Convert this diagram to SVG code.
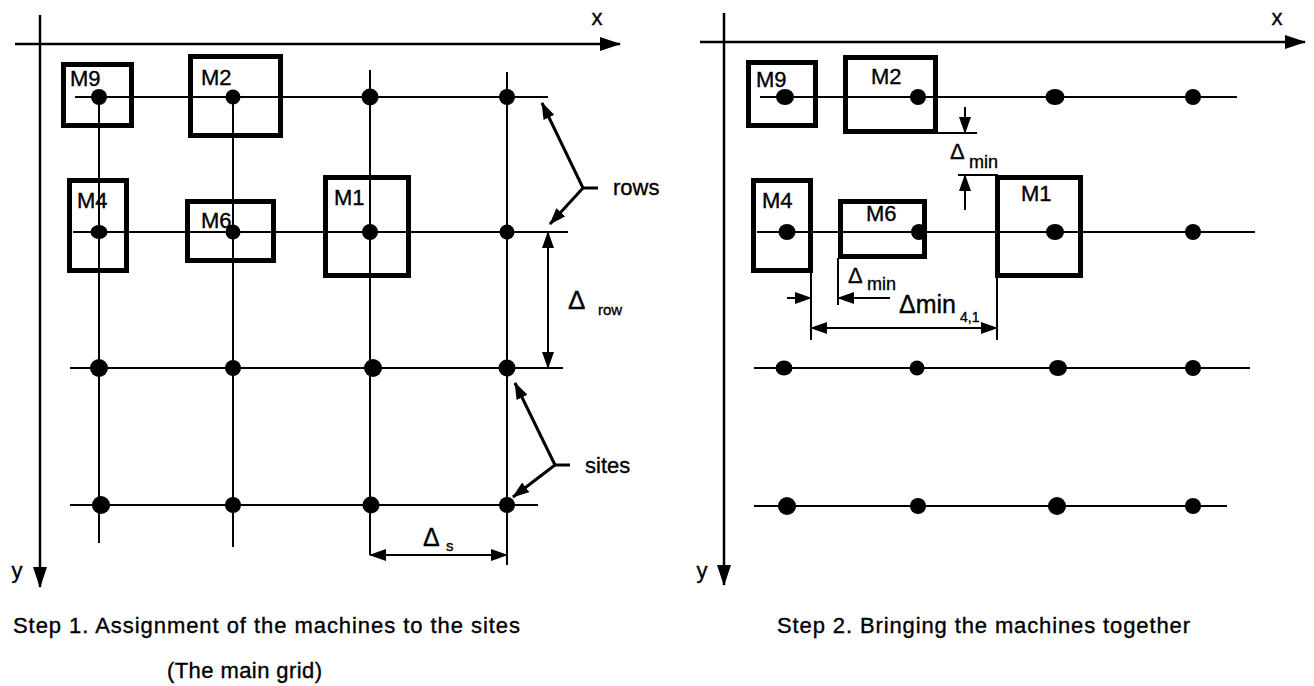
<svg xmlns="http://www.w3.org/2000/svg" width="1314" height="686" viewBox="0 0 1314 686">
<defs>
<marker id="ah" markerUnits="userSpaceOnUse" markerWidth="17" markerHeight="12" refX="16" refY="6" orient="auto-start-reverse"><path d="M0,0 L17,6 L0,12 z" fill="#000"/></marker>
<marker id="axh" markerUnits="userSpaceOnUse" markerWidth="21" markerHeight="14" refX="20" refY="7" orient="auto"><path d="M0,0 L21,7 L0,14 z" fill="#000"/></marker>
</defs>
<style>
.ax{stroke:#000;stroke-width:2.5;fill:none}
.g{stroke:#000;stroke-width:2;fill:none}
.m{stroke:#000;stroke-width:5;fill:none}
.d{fill:#000}
.ptr{stroke:#000;stroke-width:3;fill:none}
.dim{stroke:#000;stroke-width:2;fill:none}
text{font-family:"Liberation Sans",Arial,sans-serif;fill:#000;stroke:#000;stroke-width:0.35}
.ml{font-size:22px}
.lb{font-size:22px}
.cap{font-size:22px}
</style>

<!-- connectors / lines -->
<g id="connectors">
  <!-- left axes -->
  <line class="ax" x1="15" y1="44" x2="620" y2="44" marker-end="url(#axh)"/>
  <line class="ax" x1="40" y1="15" x2="40" y2="587" marker-end="url(#axh)"/>
  <!-- left grid verticals -->
  <line class="g" x1="99" y1="90" x2="99" y2="543"/>
  <line class="g" x1="233" y1="90" x2="233" y2="547"/>
  <line class="g" x1="370" y1="70" x2="370" y2="555"/>
  <line class="g" x1="507" y1="72" x2="507" y2="565"/>
  <!-- left grid rows -->
  <line class="g" x1="75" y1="97" x2="548" y2="97"/>
  <line class="g" x1="73" y1="232" x2="568" y2="232"/>
  <line class="g" x1="70" y1="368" x2="563" y2="368"/>
  <line class="g" x1="70" y1="505" x2="538" y2="505"/>
  <!-- rows pointer -->
  <line class="ptr" x1="598" y1="188" x2="583" y2="188"/>
  <line class="ptr" x1="583" y1="188" x2="542" y2="103" marker-end="url(#ah)"/>
  <line class="ptr" x1="583" y1="188" x2="550" y2="224" marker-end="url(#ah)"/>
  <!-- sites pointer -->
  <line class="ptr" x1="570" y1="465" x2="555" y2="465"/>
  <line class="ptr" x1="555" y1="465" x2="515" y2="383" marker-end="url(#ah)"/>
  <line class="ptr" x1="555" y1="465" x2="513" y2="497" marker-end="url(#ah)"/>
  <!-- delta row -->
  <line class="dim" x1="548" y1="232" x2="548" y2="368" marker-start="url(#ah)" marker-end="url(#ah)"/>
  <!-- delta s -->
  <line class="dim" x1="370" y1="555" x2="507" y2="555" marker-start="url(#ah)" marker-end="url(#ah)"/>

  <!-- right axes -->
  <line class="ax" x1="700" y1="42" x2="1305" y2="42" marker-end="url(#axh)"/>
  <line class="ax" x1="724" y1="13" x2="724" y2="585" marker-end="url(#axh)"/>
  <!-- right rows -->
  <line class="g" x1="760" y1="97" x2="1237" y2="97"/>
  <line class="g" x1="757" y1="232" x2="1255" y2="232"/>
  <line class="g" x1="754" y1="368" x2="1250" y2="368"/>
  <line class="g" x1="754" y1="506" x2="1227" y2="506"/>
  <!-- vertical delta min -->
  <line class="dim" x1="938" y1="133" x2="977" y2="133"/>
  <line class="dim" x1="965" y1="107" x2="965" y2="133" marker-end="url(#ah)"/>
  <line class="dim" x1="958" y1="175" x2="998" y2="175"/>
  <line class="dim" x1="965" y1="210" x2="965" y2="175" marker-end="url(#ah)"/>
  <!-- horizontal delta min -->
  <line class="dim" x1="811" y1="271" x2="811" y2="340"/>
  <line class="dim" x1="838" y1="258" x2="838" y2="305"/>
  <line class="dim" x1="787" y1="298" x2="811" y2="298" marker-end="url(#ah)"/>
  <line class="dim" x1="890" y1="298" x2="838" y2="298" marker-end="url(#ah)"/>
  <!-- delta min 4,1 -->
  <line class="dim" x1="997" y1="278" x2="997" y2="340"/>
  <line class="dim" x1="811" y1="328" x2="997" y2="328" marker-start="url(#ah)" marker-end="url(#ah)"/>
</g>

<!-- sites (dots) -->
<g id="left-sites">
  <circle class="d" cx="99" cy="97" r="8"/><circle class="d" cx="233" cy="97" r="7.5"/><circle class="d" cx="370" cy="97" r="8.5"/><circle class="d" cx="507" cy="97" r="8"/>
  <ellipse class="d" cx="99" cy="232" rx="8.5" ry="7"/><circle class="d" cx="233" cy="232" r="7.5"/><circle class="d" cx="370" cy="232" r="8"/><circle class="d" cx="507" cy="232" r="7.5"/>
  <circle class="d" cx="99" cy="368" r="9"/><circle class="d" cx="233" cy="368" r="8"/><circle class="d" cx="373" cy="368" r="9"/><circle class="d" cx="507" cy="368" r="8.5"/>
  <circle class="d" cx="101" cy="505" r="9"/><circle class="d" cx="233" cy="505" r="8"/><circle class="d" cx="371" cy="505" r="8.5"/><circle class="d" cx="507" cy="505" r="8"/>
</g>
<g id="right-sites">
  <ellipse class="d" cx="785" cy="97" rx="9" ry="8"/><circle class="d" cx="918" cy="97" r="8"/><ellipse class="d" cx="1055" cy="97" rx="9.5" ry="8"/><circle class="d" cx="1193" cy="97" r="8"/>
  <ellipse class="d" cx="787" cy="232" rx="8.5" ry="8"/><circle class="d" cx="919" cy="232" r="8"/><ellipse class="d" cx="1055" cy="232" rx="9" ry="8"/><circle class="d" cx="1193" cy="232" r="8"/>
  <ellipse class="d" cx="784" cy="368" rx="8.5" ry="7.5"/><circle class="d" cx="917" cy="368" r="7.5"/><ellipse class="d" cx="1058" cy="368" rx="9" ry="8"/><circle class="d" cx="1193" cy="368" r="8"/>
  <circle class="d" cx="787" cy="506" r="9"/><circle class="d" cx="918" cy="506" r="8"/><circle class="d" cx="1057" cy="506" r="9"/><circle class="d" cx="1193" cy="506" r="8"/>
</g>

<!-- left machines -->
<g id="left-M9"><rect class="m" x="63.5" y="64.5" width="68" height="61"/><text class="ml" x="70" y="86">M9</text></g>
<g id="left-M2"><rect class="m" x="190.5" y="56.5" width="90" height="79"/><text class="ml" x="201" y="85">M2</text></g>
<g id="left-M4"><rect class="m" x="69.5" y="180.5" width="57" height="90"/><text class="ml" x="77" y="208">M4</text></g>
<g id="left-M6"><rect class="m" x="187.5" y="201.5" width="86" height="59"/><text class="ml" x="201" y="228">M6</text></g>
<g id="left-M1"><rect class="m" x="325.5" y="177.5" width="83" height="98"/><text class="ml" x="334" y="205">M1</text></g>

<!-- right machines -->
<g id="right-M9"><rect class="m" x="748.5" y="62.5" width="67" height="63"/><text class="ml" x="756" y="87">M9</text></g>
<g id="right-M2"><rect class="m" x="845.5" y="57.5" width="90" height="74"/><text class="ml" x="871" y="84">M2</text></g>
<g id="right-M4"><rect class="m" x="753.5" y="180.5" width="57" height="90"/><text class="ml" x="762" y="208">M4</text></g>
<g id="right-M6"><rect class="m" x="840.5" y="201.5" width="84" height="55"/><text class="ml" x="866" y="221">M6</text></g>
<g id="right-M1"><rect class="m" x="997.5" y="177.5" width="83" height="98"/><text class="ml" x="1021" y="201">M1</text></g>

<!-- labels -->
<g id="labels">
  <text class="lb" x="597" y="25" text-anchor="middle">x</text>
  <text class="lb" x="17" y="578" text-anchor="middle">y</text>
  <text class="lb" x="1277" y="25" text-anchor="middle">x</text>
  <text class="lb" x="702" y="578" text-anchor="middle">y</text>
  <text class="lb" x="613" y="195">rows</text>
  <text class="lb" x="585" y="473">sites</text>
  <text x="568" y="309" style="font-size:26px">Δ</text>
  <text x="598" y="315" style="font-size:15px">row</text>
  <text x="423" y="546" style="font-size:25px">Δ</text>
  <text x="446" y="551" style="font-size:15px">s</text>
  <text x="950" y="159" style="font-size:22px">Δ</text>
  <text x="969" y="168" style="font-size:18px">min</text>
  <text x="848" y="283" style="font-size:22px">Δ</text>
  <text x="867" y="290" style="font-size:18px">min</text>
  <text x="899" y="313" style="font-size:25px">Δmin</text>
  <text x="960" y="322" style="font-size:14px">4,1</text>
  <text class="cap" x="13" y="633" textLength="507" lengthAdjust="spacing">Step 1. Assignment of the machines to the sites</text>
  <text class="cap" x="167" y="678" textLength="155" lengthAdjust="spacing">(The main grid)</text>
  <text class="cap" x="777" y="633" textLength="413" lengthAdjust="spacing">Step 2. Bringing the machines together</text>
</g>
</svg>
